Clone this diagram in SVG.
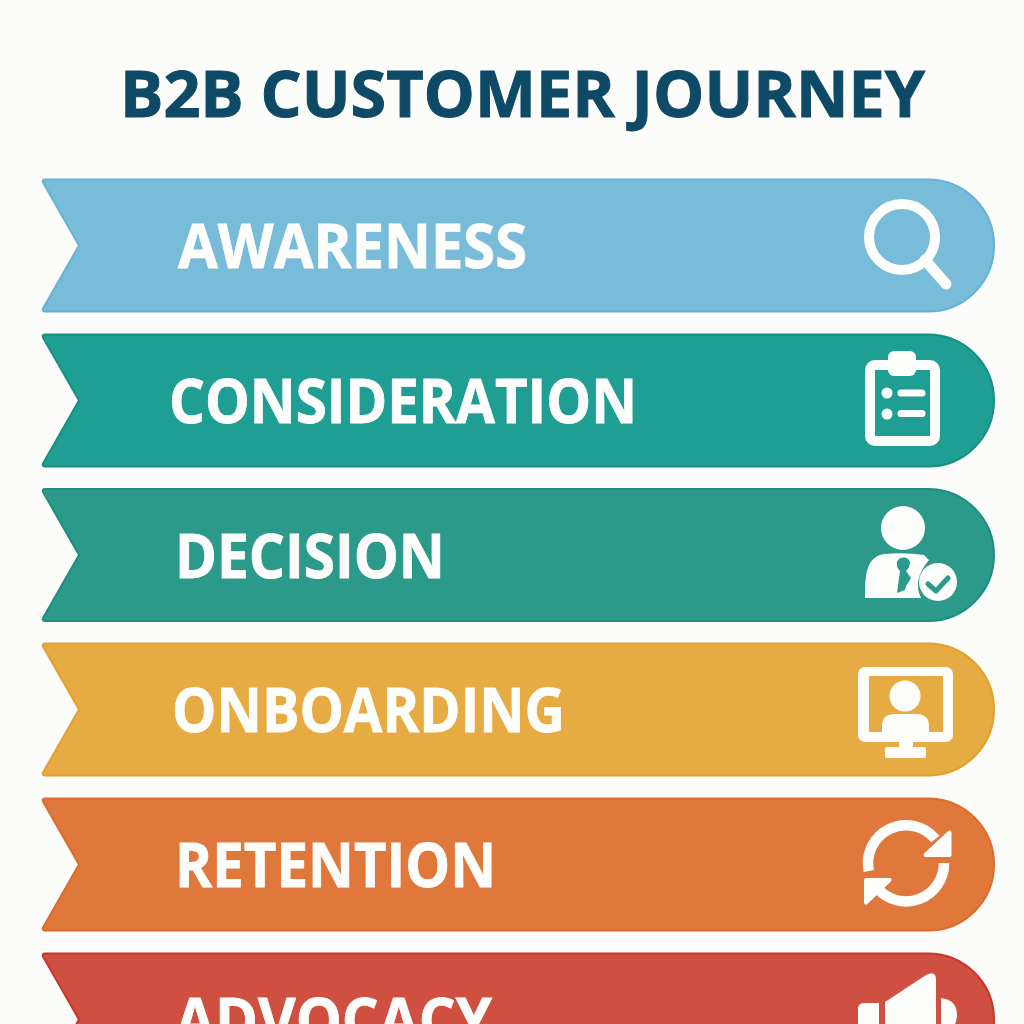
<svg xmlns="http://www.w3.org/2000/svg" width="1024" height="1024" viewBox="0 0 1024 1024">
<style>
.t{font-family:"Open Sans","Noto Sans","Liberation Sans",sans-serif;font-weight:700}
.title{font-size:65px;fill:#0e4a66;stroke:#0e4a66;stroke-width:1}
.lab{font-size:60px;fill:#fdfdfb;stroke:#fdfdfb;stroke-width:.8}
.band{stroke-width:2;stroke-linejoin:round}
.w{fill:#fdfdfb}
.ol{fill:none;stroke:#fdfdfb}
</style>
<defs>
<path id="shape" d="M45 179.500Q42 179.500 43 182.500L79 245.500L43 308.500Q42 311.500 45 311.500H928A66 66 0 0 0 928 179.500Z"/>
</defs>
<rect width="1024" height="1024" fill="#fcfcfa"/>
<g id="title"><text class="t title" x="120" y="117" textLength="805" lengthAdjust="spacingAndGlyphs">B2B CUSTOMER JOURNEY</text></g>
<g id="awareness">
<use href="#shape" class="band" fill="#79bcd9" stroke="#66b2d4"/>
<text class="t lab" x="178" y="268" textLength="349" lengthAdjust="spacingAndGlyphs">AWARENESS</text>
<circle class="ol" cx="902" cy="237" r="33" stroke-width="10"/>
<path class="ol" d="M925 260L946 284" stroke-width="11" stroke-linecap="round"/>
</g>
<g id="consideration" transform="translate(0 155)">
<use href="#shape" class="band" fill="#1f9f94" stroke="#178f85"/>
<text class="t lab" x="169" y="268" textLength="468" lengthAdjust="spacingAndGlyphs">CONSIDERATION</text>
<g transform="translate(0 -155)">
<rect class="ol" x="870" y="365" width="65" height="76" rx="5" stroke-width="10"/>
<rect class="w" x="888" y="351" width="28" height="25" rx="6"/>
<circle class="w" cx="887" cy="393" r="5.500"/><circle class="w" cx="887" cy="414" r="5.500"/>
<path class="ol" d="M901 393H922M901 413.500H922" stroke-width="7" stroke-linecap="round"/>
</g>
</g>
<g id="decision" transform="translate(0 309.500)">
<use href="#shape" class="band" fill="#2b9a8a" stroke="#1f8e80"/>
<text class="t lab" x="175" y="268" textLength="270" lengthAdjust="spacingAndGlyphs">DECISION</text>
<g transform="translate(0 -309.500)">
<circle class="w" cx="903" cy="528" r="22"/>
<path class="w" d="M865 598C865 575 866 557 884 554Q904 552 924 555L929 560Q912 580 921 598Z"/>
<path fill="#2b9a8a" d="M897 562A7 7 0 0 1 910 562Q910 567 906 571L911 578L908 583L906 586L905 590L897 593L900 571Q896 567 897 562Z"/>
<circle cx="938" cy="582" r="19" class="w"/>
<path fill="none" stroke="#2b9a8a" stroke-width="5" stroke-linecap="round" stroke-linejoin="round" d="M928 584L936 591L948 578"/>
</g>
</g>
<g id="onboarding" transform="translate(0 464)">
<use href="#shape" class="band" fill="#e6ab42" stroke="#e2a02e"/>
<text class="t lab" x="172" y="268" textLength="393" lengthAdjust="spacingAndGlyphs">ONBOARDING</text>
<g transform="translate(0 -464)">
<path class="w" fill-rule="evenodd" d="M865 667H946A7 7 0 0 1 953 674V735A7 7 0 0 1 946 742H865A7 7 0 0 1 858 735V674A7 7 0 0 1 865 667ZM869 676V732H943V676Z"/>
<circle class="w" cx="905" cy="696" r="15.500"/>
<path class="w" d="M882 734V726Q882 714 895 714H916Q929 714 929 726V734Z"/>
<rect class="w" x="899" y="741" width="14" height="8"/>
<rect class="w" x="885" y="747" width="41" height="11" rx="2"/>
</g>
</g>
<g id="retention" transform="translate(0 619)">
<use href="#shape" class="band" fill="#e0783c" stroke="#dc6c2c"/>
<text class="t lab" x="175" y="268" textLength="321" lengthAdjust="spacingAndGlyphs">RETENTION</text>
<g transform="translate(0 -619)">
<path class="ol" d="M868.800 871A38 38 0 0 1 935.300 839" stroke-width="10.500"/>
<path class="w" stroke="#fdfdfb" stroke-width="4" stroke-linejoin="round" d="M949.500 832.500V855H925.500Z"/>
<path class="ol" d="M944 863A38 38 0 0 1 877.500 888.500" stroke-width="10.500"/>
<path class="w" stroke="#fdfdfb" stroke-width="4" stroke-linejoin="round" d="M866 880H889.500L866 902.500Z"/>
</g>
</g>
<g id="advocacy" transform="translate(0 774)">
<use href="#shape" class="band" fill="#cf5040" stroke="#c9352a"/>
<text class="t lab" x="175" y="268" textLength="317" lengthAdjust="spacingAndGlyphs">ADVOCACY</text>
<g transform="translate(0 -774)">
<path class="w" d="M864 1003H879V1056H864Q858 1056 858 1050V1009Q858 1003 864 1003Z"/>
<path class="w" d="M885 1002L926 975Q936 970 936 980V1058L885 1035Z"/>
<path class="w" d="M941 998Q957 1000 957 1015Q957 1030 941 1033Z"/>
</g>
</g>
</svg>
